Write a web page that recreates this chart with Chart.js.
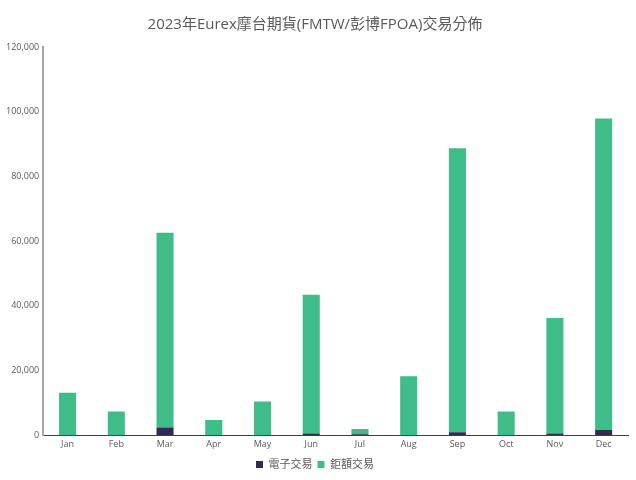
<!DOCTYPE html>
<html lang="zh-Hant">
<head>
<meta charset="UTF-8">
<title>2023年Eurex摩台期貨交易分佈</title>
<script src="https://cdn.jsdelivr.net/npm/chart.js"></script>
<style>
  html, body { margin: 0; padding: 0; background: #fff; }
  #wrap { width: 636px; height: 480px; }
</style>
</head>
<body>
<div id="wrap"><canvas id="chart" width="636" height="480"></canvas></div>
<script>
const months = ['Jan', 'Feb', 'Mar', 'Apr', 'May', 'Jun', 'Jul', 'Aug', 'Sep', 'Oct', 'Nov', 'Dec'];
// 電子交易
const electronic = [0, 0, 2400, 0, 0, 500, 300, 0, 900, 0, 500, 1600];
// 鉅額交易
const block = [13100, 7300, 60200, 4700, 10400, 42900, 1600, 18200, 87800, 7300, 35700, 96300];
const yTicks = [0, 20000, 40000, 60000, 80000, 100000, 120000];

const font = "'Open Sans', 'Noto Sans CJK TC', sans-serif";

new Chart(document.getElementById('chart'), {
    type: 'bar',
    data: {
        labels: months,
        datasets: [
            { label: '電子交易', data: electronic, backgroundColor: '#312A56', barPercentage: 0.7, categoryPercentage: 0.5 },
            { label: '鉅額交易', data: block, backgroundColor: '#3FBD89', barPercentage: 0.7, categoryPercentage: 0.5 }
        ]
    },
    options: {
        responsive: false,
        animation: false,
        layout: { padding: { left: 2, right: 8, top: 4, bottom: 0 } },
        plugins: {
            title: {
                display: true,
                text: '2023年Eurex摩台期貨(FMTW/彭博FPOA)交易分佈',
                color: '#595959',
                font: { family: font, size: 15, weight: 'normal' },
                padding: { top: 12, bottom: 13 }
            },
            legend: {
                position: 'bottom',
                labels: { boxWidth: 7, boxHeight: 7, color: '#595959', font: { family: font, size: 11 }, padding: 5 }
            },
            tooltip: { enabled: false }
        },
        scales: {
            x: {
                stacked: true,
                grid: { display: false, drawTicks: false },
                border: { color: '#404040', width: 1 },
                ticks: { color: '#595959', font: { family: font, size: 9 }, padding: 4 }
            },
            y: {
                stacked: true,
                min: 0,
                max: 120000,
                afterBuildTicks: axis => { axis.ticks = yTicks.map(v => ({ value: v })); },
                grid: { display: false, drawTicks: false },
                border: { color: '#A6A6A6', width: 2 },
                ticks: {
                    color: '#595959',
                    font: { family: font, size: 9 },
                    padding: 4,
                    callback: v => v.toLocaleString('en-US')
                }
            }
        }
    }
});
</script>
</body>
</html>
